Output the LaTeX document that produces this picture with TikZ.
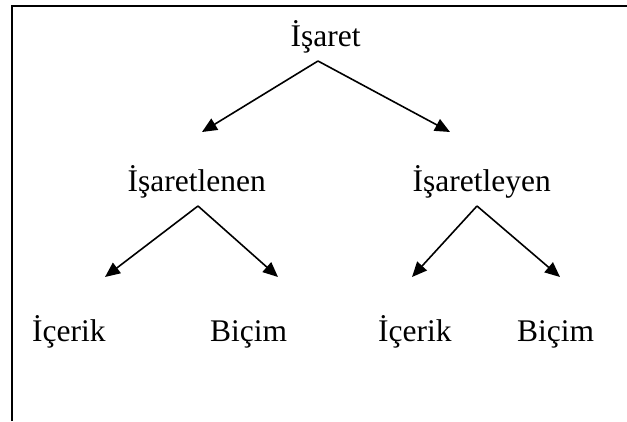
\documentclass[tikz,border=0pt]{standalone}
\usepackage{fontspec}
\setmainfont{Liberation Serif}
\usetikzlibrary{arrows.meta}
\begin{document}
\begin{tikzpicture}[x=1pt,y=-1pt,
  lbl/.style={inner sep=0pt,anchor=base west,font=\fontsize{31.5}{36}\selectfont},
  arr/.style={line width=1.6pt,-{Triangle[length=15pt,width=13pt]}},
  frame/.style={line width=2pt}]
\useasboundingbox (0,0) rectangle (627,421);
% frame
\coordinate (fbl) at (11.5,421);
\coordinate (ftl) at (11.5,5.8);
\coordinate (ftr) at (627,5.8);
\draw[frame] (fbl) -- (ftl) -- (ftr);
% labels
\node[lbl] (isaret) at (290.5,46) {İşaret};
\node[lbl] (isl) at (127.5,191.7) {İşaretlenen};
\node[lbl] (isy) at (412.5,191.7) {İşaretleyen};
\node[lbl] (ic1) at (32,341.5) {İçerik};
\node[lbl] (bc1) at (210,341.5) {Biçim};
\node[lbl] (ic2) at (378,341.5) {İçerik};
\node[lbl] (bc2) at (517,341.5) {Biçim};
% arrow points
\coordinate (a0) at (318,61);
\coordinate (t1) at (202,132);
\coordinate (t2) at (450,132);
\coordinate (a1) at (198,206);
\coordinate (t11) at (105,277);
\coordinate (t12) at (278,277);
\coordinate (a2) at (477,206);
\coordinate (t21) at (412,277);
\coordinate (t22) at (560,277);
\draw[arr] (a0) -- (t1);
\draw[arr] (a0) -- (t2);
\draw[arr] (a1) -- (t11);
\draw[arr] (a1) -- (t12);
\draw[arr] (a2) -- (t21);
\draw[arr] (a2) -- (t22);
\end{tikzpicture}
\end{document}
